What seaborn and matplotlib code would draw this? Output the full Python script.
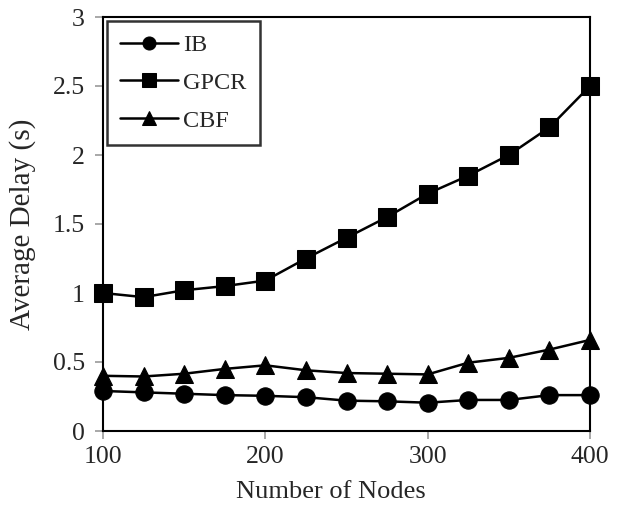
import matplotlib
matplotlib.use("Agg")
import matplotlib.pyplot as plt
import seaborn as sns
import pandas as pd

nodes = [100, 125, 150, 175, 200, 225, 250, 275, 300, 325, 350, 375, 400]
ib = [0.29, 0.28, 0.27, 0.26, 0.255, 0.245, 0.22, 0.215, 0.205, 0.225, 0.225, 0.26, 0.26]
gpcr = [1.0, 0.97, 1.02, 1.05, 1.09, 1.25, 1.40, 1.55, 1.72, 1.85, 2.0, 2.2, 2.5]
cbf = [0.40, 0.395, 0.415, 0.45, 0.476, 0.44, 0.42, 0.415, 0.41, 0.495, 0.53, 0.59, 0.66]
series = ["IB", "GPCR", "CBF"]
markers = ["o", "s", "^"]
x_ticks = [100, 200, 300, 400]
y_ticks = [0, 0.5, 1, 1.5, 2, 2.5, 3]
y_tick_labels = ["0", "0.5", "1", "1.5", "2", "2.5", "3"]

df = pd.DataFrame({
    "Nodes": nodes * 3,
    "Delay": ib + gpcr + cbf,
    "Series": [s for s in series for _ in nodes],
})

sns.set_style("white")
plt.rcParams["font.family"] = ["Liberation Serif", "DejaVu Serif"]

fig = plt.figure(figsize=(6.26, 5.17), dpi=100)
ax = fig.add_axes([103 / 626, 1 - 431 / 517, (590 - 103) / 626, (431 - 17) / 517])

for name, mk in zip(series, markers):
    sub = df[df["Series"] == name]
    sns.lineplot(data=sub, x="Nodes", y="Delay", ax=ax, color="black",
                 marker=mk, markersize=13 if mk != "o" else 12.5,
                 markeredgecolor="black", linewidth=1.8, label=name,
                 clip_on=False, zorder=3)

ax.set_xlim(100, 400)
ax.set_ylim(0, 3)
ax.set_xticks(x_ticks)
ax.set_yticks(y_ticks)
ax.set_yticklabels(y_tick_labels)
ax.tick_params(axis="both", which="major", direction="out", length=6, width=1.2,
               color="#999999", labelsize=18.5, bottom=True, left=True)
ax.tick_params(axis="y", pad=7)
ax.tick_params(axis="x", pad=5)
ax.set_xlabel("Number of Nodes", fontsize=19)
ax.xaxis.set_label_coords(0.468, -0.12)
ax.set_ylabel("Average Delay (s)", fontsize=21, labelpad=12)
for sp in ax.spines.values():
    sp.set_color("black")
    sp.set_linewidth(1.5)

leg = ax.legend(loc="upper left", fontsize=17.5, frameon=True, fancybox=False,
                edgecolor="black", borderaxespad=0.15, handlelength=2.4,
                labelspacing=0.65, borderpad=0.55, handletextpad=0.2,
                markerscale=0.75)
leg.get_frame().set_linewidth(1.8)

fig.savefig("out.png", dpi=100)
